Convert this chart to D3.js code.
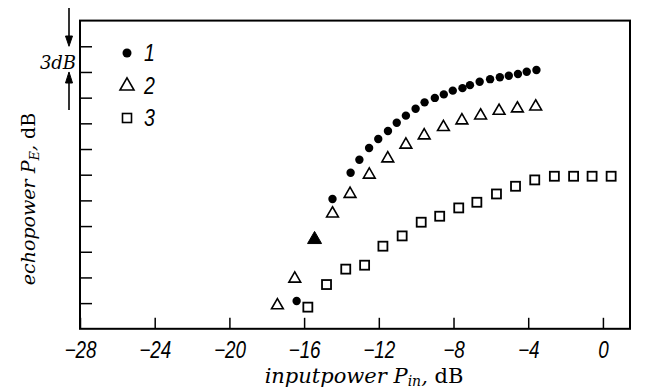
<!DOCTYPE html>
<html>
<head>
<meta charset="utf-8">
<script src="https://cdn.jsdelivr.net/npm/d3@7"></script>
<style>
  body { margin: 0; background: #fff; }
  svg { display: block; }
</style>
</head>
<body>
<div id="chart"></div>
<script>
// input power (dB) / echo power (dB)
const xTicks = [-28, -24, -20, -16, -12, -8, -4, 0];
const yTicks = [3, 6, 9, 12, 15, 18, 21, 24, 27, 30, 33];

const series1X = [-16.4, -14.48, -13.51, -13.04, -12.52, -12.03, -11.51, -11.04, -10.55, -10.03,
                  -9.55, -9.0, -8.52, -8.04, -7.52, -7.12, -6.6, -6.04, -5.52, -5.04, -4.55, -4.08, -3.56];
const series1Y = [3.24, 15.17, 18.23, 19.75, 21.11, 22.17, 23.1, 24.06, 24.9, 25.71,
                  26.45, 26.97, 27.38, 27.82, 28.11, 28.46, 28.86, 29.16, 29.38, 29.56, 29.77, 30.02, 30.23];

const series2X = [-17.43, -16.5, -14.48, -13.54, -12.51, -11.52, -10.55, -9.57, -8.54, -7.55,
                  -6.55, -5.56, -4.58, -3.6];
const series2Y = [2.74, 5.85, 13.46, 15.75, 18.0, 19.9, 21.5, 22.58, 23.56, 24.33,
                  24.91, 25.46, 25.73, 25.96];

// point where series 1 and 2 coincide (drawn as a filled triangle)
const sharedX = [-15.44];
const sharedY = [10.43];

const series3X = [-15.8, -14.8, -13.77, -12.76, -11.78, -10.75, -9.73, -8.74, -7.72, -6.75,
                  -5.7, -4.68, -3.65, -2.6, -1.57, -0.58, 0.44];
const series3Y = [2.53, 5.17, 6.97, 7.43, 9.65, 10.85, 12.45, 13.15, 14.12, 14.78,
                  15.75, 16.65, 17.39, 17.82, 17.82, 17.82, 17.82];

const legendLabels = ['1', '2', '3'];

const width = 645, height = 390;
const tickFont = '"Liberation Sans", Arial, sans-serif';
const labelFont = '"DejaVu Serif", serif';

const x = d3.scaleLinear().domain([-28, 1.45]).range([80, 630]);
const y = d3.scaleLinear().domain([0, 36]).range([328.8, 20.6]);

const svg = d3.select('#chart').append('svg')
  .attr('width', width)
  .attr('height', height);

// axes, ticks pointing inward
const xAxis = svg.append('g')
  .attr('transform', `translate(0, ${y(0)})`)
  .call(d3.axisBottom(x).tickValues(xTicks).tickSizeInner(-11).tickSizeOuter(0).tickPadding(13));
xAxis.select('.domain').remove();
xAxis.selectAll('line').attr('stroke', '#000').attr('stroke-width', 1.5);
xAxis.selectAll('text')
  .attr('fill', '#000')
  .attr('transform', 'scale(0.82, 1)')  // narrow lettering like the original
  .style('font-family', tickFont)
  .style('font-style', 'italic')
  .style('font-size', '23px');

const yAxis = svg.append('g')
  .attr('transform', `translate(${x(-28)}, 0)`)
  .call(d3.axisLeft(y).tickValues(yTicks).tickSizeInner(-12).tickSizeOuter(0).tickFormat(''));
yAxis.select('.domain').remove();
yAxis.selectAll('line').attr('stroke', '#000').attr('stroke-width', 1.5);

// frame
svg.append('rect')
  .attr('x', x(-28))
  .attr('y', y(36))
  .attr('width', x(1.45) - x(-28))
  .attr('height', y(0) - y(36))
  .attr('fill', 'none')
  .attr('stroke', '#000')
  .attr('stroke-width', 2);

const tri = d3.symbol().type(d3.symbolTriangle).size(60);
const triBig = d3.symbol().type(d3.symbolTriangle).size(85);

// series 3: squares
svg.append('g').selectAll('rect')
  .data(d3.range(series3X.length))
  .join('rect')
  .attr('x', i => x(series3X[i]) - 4.5)
  .attr('y', i => y(series3Y[i]) - 4.5)
  .attr('width', 9)
  .attr('height', 9)
  .attr('fill', '#fff')
  .attr('stroke', '#000')
  .attr('stroke-width', 1.8);

// series 2: open triangles
svg.append('g').selectAll('path')
  .data(d3.range(series2X.length))
  .join('path')
  .attr('d', tri)
  .attr('transform', i => `translate(${x(series2X[i])}, ${y(series2Y[i])})`)
  .attr('fill', '#fff')
  .attr('stroke', '#000')
  .attr('stroke-width', 1.6);

// series 1: filled dots
svg.append('g').selectAll('circle')
  .data(d3.range(series1X.length))
  .join('circle')
  .attr('cx', i => x(series1X[i]))
  .attr('cy', i => y(series1Y[i]))
  .attr('r', 4.2)
  .attr('fill', '#000');

svg.append('g').selectAll('path')
  .data(d3.range(sharedX.length))
  .join('path')
  .attr('d', triBig)
  .attr('transform', i => `translate(${x(sharedX[i])}, ${y(sharedY[i])})`)
  .attr('fill', '#000')
  .attr('stroke', '#000')
  .attr('stroke-width', 1);

// legend
const legend = svg.append('g');
legend.append('circle').attr('cx', 127).attr('cy', 53).attr('r', 4.5).attr('fill', '#000');
legend.append('path').attr('d', triBig).attr('transform', 'translate(127, 86)')
  .attr('fill', '#fff').attr('stroke', '#000').attr('stroke-width', 1.6);
legend.append('rect').attr('x', 122.5).attr('y', 113.5).attr('width', 9).attr('height', 9)
  .attr('fill', '#fff').attr('stroke', '#000').attr('stroke-width', 1.6);
legend.selectAll('text')
  .data(legendLabels)
  .join('text')
  .attr('transform', (d, i) => `translate(144, ${53 + i * 32.5}) scale(0.85, 1)`)
  .attr('dy', '0.36em')
  .style('font-family', tickFont)
  .style('font-style', 'italic')
  .style('font-size', '23px')
  .text(d => d);

// 3 dB scale marker
const arrows = svg.append('g').attr('stroke', '#000').attr('fill', '#000');
arrows.append('line').attr('x1', 69).attr('x2', 69).attr('y1', 8).attr('y2', 40).attr('stroke-width', 1.6);
arrows.append('path').attr('d', `M65.5,36 L69,${y(33)} L72.5,36 Z`);
arrows.append('line').attr('x1', 69).attr('x2', 69).attr('y1', 110).attr('y2', 80).attr('stroke-width', 1.6);
arrows.append('path').attr('d', `M65.5,83 L69,${y(30)} L72.5,83 Z`);
svg.append('text')
  .attr('x', 58)
  .attr('y', 63)
  .attr('dy', '0.35em')
  .attr('text-anchor', 'middle')
  .style('font-family', labelFont)
  .style('font-style', 'italic')
  .style('font-size', '18px')
  .text('3dB');

// axis titles
const xLabel = svg.append('text')
  .attr('x', 364)
  .attr('y', 383)
  .attr('text-anchor', 'middle')
  .style('font-family', labelFont)
  .style('font-style', 'italic')
  .style('font-size', '21px');
xLabel.append('tspan').text('inputpower ');
xLabel.append('tspan').text('P');
xLabel.append('tspan').attr('dy', 3).style('font-size', '14px').text('in');
xLabel.append('tspan').attr('dy', -3).text(', ');
xLabel.append('tspan').style('font-style', 'normal').text('dB');

const yLabel = svg.append('text')
  .attr('transform', 'translate(35, 199) rotate(-90)')
  .attr('text-anchor', 'middle')
  .style('font-family', labelFont)
  .style('font-style', 'italic')
  .style('font-size', '19px');
yLabel.append('tspan').text('echopower ');
yLabel.append('tspan').text('P');
yLabel.append('tspan').attr('dy', 4).style('font-size', '13px').text('E');
yLabel.append('tspan').attr('dy', -4).text(', ');
yLabel.append('tspan').style('font-style', 'normal').text('dB');
</script>
</body>
</html>
